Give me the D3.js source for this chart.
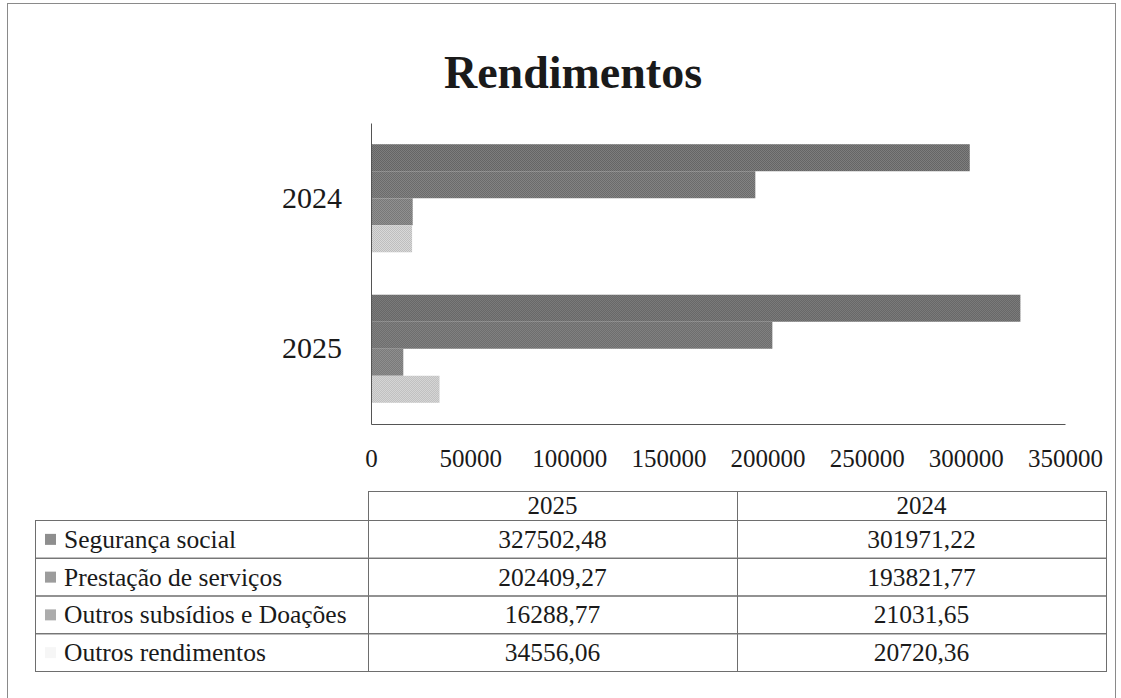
<!DOCTYPE html>
<html lang="pt">
	<head>
		<meta charset="utf-8">
		<title>Rendimentos</title>
		<script type="text/javascript" src="https://d3js.org/d3.v7.min.js"></script>
		<style type="text/css">
			body {
				background-color: white;
				margin: 0;
			}
			svg {
				display: block;
				background-color: white;
				font-family: "Liberation Serif", "Times New Roman", serif;
			}
		</style>
	</head>
	<body>
		<script type="text/javascript">
			//Data
			var barYears = ["2024", "2025"];          //top to bottom on the chart
			var tableYears = ["2025", "2024"];        //column order of the table
			var seriesNames = ["Segurança social", "Prestação de serviços", "Outros subsídios e Doações", "Outros rendimentos"];
			var values2025 = [327502.48, 202409.27, 16288.77, 34556.06];
			var values2024 = [301971.22, 193821.77, 21031.65, 20720.36];
			var xTicks = [0, 50000, 100000, 150000, 200000, 250000, 300000, 350000];

			//grey tones of the scanned bars (two shades per series, checkered)
			var darkShades = ["#5c5c5c", "#626262", "#6e6e6e", "#b4b4b4"];
			var lightShades = ["#868686", "#8c8c8c", "#9a9a9a", "#e2e2e2"];
			var swatchColors = ["#8e8e8e", "#9c9c9c", "#acacac", "#f6f6f6"];

			var valuesByYear = { "2025": values2025, "2024": values2024 };

			var w = 1121;
			var h = 698;

			var svg = d3.select("body")
					.append("svg")
					.attr("width", w)
					.attr("height", h);

			//checkered fills so the bars look like the halftone scan
			var defs = svg.append("defs");
			seriesNames.forEach(function(name, i) {
				var p = defs.append("pattern")
					.attr("id", "fill" + i)
					.attr("width", 2)
					.attr("height", 2)
					.attr("patternUnits", "userSpaceOnUse");
				p.append("rect").attr("width", 2).attr("height", 2).attr("fill", lightShades[i]);
				p.append("rect").attr("width", 1).attr("height", 1).attr("fill", darkShades[i]);
				p.append("rect").attr("x", 1).attr("y", 1).attr("width", 1).attr("height", 1).attr("fill", darkShades[i]);
			});

			//outer frame
			svg.append("rect")
				.attr("x", 7.5)
				.attr("y", 3.5)
				.attr("width", 1108)
				.attr("height", 720)
				.attr("fill", "none")
				.attr("stroke", "#8a8a8a")
				.attr("stroke-width", 1);

			//title
			svg.append("text")
				.attr("x", 573)
				.attr("y", 88)
				.attr("text-anchor", "middle")
				.style("font-size", "46px")
				.style("font-weight", "bold")
				.attr("fill", "#1a1a1a")
				.text("Rendimentos");

			//scales
			var x = d3.scaleLinear()
				.domain([0, 350000])
				.range([371, 1065]);

			var y0 = d3.scaleBand()
				.domain(barYears)
				.range([123, 424])
				.paddingInner(0.282)
				.paddingOuter(0.141);

			var y1 = d3.scaleBand()
				.domain(seriesNames)
				.range([0, y0.bandwidth()]);

			//bars
			var groups = svg.selectAll("g.year")
				.data(barYears)
				.enter()
				.append("g")
				.attr("class", "year")
				.attr("transform", function(d) { return "translate(0," + y0(d) + ")"; });

			groups.selectAll("rect")
				.data(function(year) {
					return seriesNames.map(function(name, i) {
						return { name: name, i: i, value: valuesByYear[year][i] };
					});
				})
				.enter()
				.append("rect")
				.attr("x", x(0))
				.attr("y", function(d) { return y1(d.name); })
				.attr("width", function(d) { return x(d.value) - x(0); })
				.attr("height", y1.bandwidth())
				.attr("fill", function(d) { return "url(#fill" + d.i + ")"; });

			//x axis
			var xAxis = d3.axisBottom(x)
				.tickValues(xTicks)
				.tickFormat(d3.format("d"))
				.tickSize(0)
				.tickPadding(25);

			var gx = svg.append("g")
				.attr("transform", "translate(0,424)")
				.call(xAxis);
			gx.select(".domain").attr("stroke", "#555");
			gx.selectAll("text")
				.style("font-size", "25px")
				.style("font-family", "'Liberation Serif', 'Times New Roman', serif")
				.attr("fill", "#1a1a1a");

			//y axis
			var yAxis = d3.axisLeft(y0)
				.tickSize(0)
				.tickPadding(29);

			var gy = svg.append("g")
				.attr("transform", "translate(371,0)")
				.call(yAxis);
			gy.select(".domain").attr("stroke", "#555");
			gy.selectAll("text")
				.style("font-size", "30px")
				.style("font-family", "'Liberation Serif', 'Times New Roman', serif")
				.attr("fill", "#1a1a1a");

			//data table under the chart
			var ptFormat = d3.formatLocale({ decimal: ",", thousands: ".", grouping: [3], currency: ["", " €"] }).format(".2f");

			var tableLeft = 35;
			var headerTop = 491;
			var col = d3.scaleBand()
				.domain(tableYears)
				.range([368, 1106]);
			var row = d3.scaleBand()
				.domain(seriesNames)
				.range([520, 671]);

			var lineColor = "#6e6e6e";
			var table = svg.append("g").attr("class", "table");

			//header cells
			table.selectAll("rect.head")
				.data(tableYears)
				.enter()
				.append("rect")
				.attr("class", "head")
				.attr("x", function(d) { return col(d) + 0.5; })
				.attr("y", headerTop + 0.5)
				.attr("width", col.bandwidth())
				.attr("height", row.range()[0] - headerTop)
				.attr("fill", "none")
				.attr("stroke", lineColor);

			table.selectAll("text.head")
				.data(tableYears)
				.enter()
				.append("text")
				.attr("class", "head")
				.attr("x", function(d) { return col(d) + col.bandwidth() / 2; })
				.attr("y", headerTop + 23)
				.attr("text-anchor", "middle")
				.style("font-size", "25px")
				.attr("fill", "#1a1a1a")
				.text(function(d) { return d; });

			//body rows
			var rows = table.selectAll("g.row")
				.data(seriesNames)
				.enter()
				.append("g")
				.attr("class", "row")
				.attr("transform", function(d) { return "translate(0," + row(d) + ")"; });

			rows.append("rect")
				.attr("x", tableLeft + 0.5)
				.attr("y", 0.5)
				.attr("width", col.range()[1] - tableLeft)
				.attr("height", row.bandwidth())
				.attr("fill", "none")
				.attr("stroke", lineColor);

			rows.selectAll("line")
				.data(tableYears)
				.enter()
				.append("line")
				.attr("x1", function(d) { return col(d) + 0.5; })
				.attr("x2", function(d) { return col(d) + 0.5; })
				.attr("y1", 0)
				.attr("y2", row.bandwidth())
				.attr("stroke", lineColor);

			rows.append("rect")
				.attr("x", 45)
				.attr("y", row.bandwidth() / 2 - 5)
				.attr("width", 11)
				.attr("height", 11)
				.attr("fill", function(d, i) { return swatchColors[i]; });

			rows.append("text")
				.attr("x", 64)
				.attr("y", row.bandwidth() / 2 + 9)
				.style("font-size", "25.5px")
				.attr("fill", "#1a1a1a")
				.text(function(d) { return d; });

			rows.selectAll("text.val")
				.data(function(name, i) {
					return tableYears.map(function(year) {
						return { year: year, value: valuesByYear[year][i] };
					});
				})
				.enter()
				.append("text")
				.attr("class", "val")
				.attr("x", function(d) { return col(d.year) + col.bandwidth() / 2; })
				.attr("y", row.bandwidth() / 2 + 9)
				.attr("text-anchor", "middle")
				.style("font-size", "25.5px")
				.attr("fill", "#1a1a1a")
				.text(function(d) { return ptFormat(d.value); });
		</script>
	</body>
</html>
